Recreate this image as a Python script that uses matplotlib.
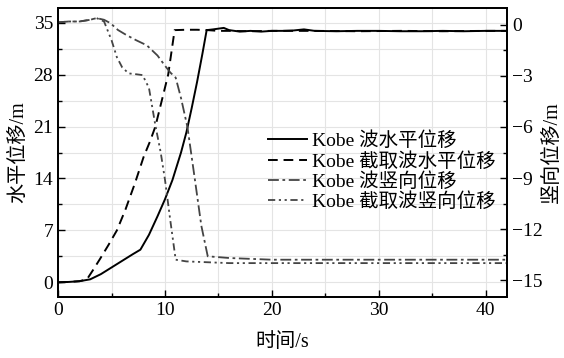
import matplotlib
matplotlib.use("Agg")
import matplotlib.pyplot as plt
from matplotlib.ticker import MultipleLocator

plt.rcParams['font.family'] = ['Liberation Serif', 'Noto Sans CJK SC']
plt.rcParams['axes.unicode_minus'] = True

# Kobe 波水平位移
t_h = [0, 1, 2, 3, 4, 5, 6, 7, 7.7, 8.5, 9.3, 10, 10.7, 11.5, 12, 12.5, 13, 13.5, 13.9,
       14.5, 15, 15.5, 16, 17, 18, 19, 20, 21, 22, 23, 24, 26, 28, 30, 32, 34, 36, 38, 40, 42]
h_kobe = [0, 0.05, 0.15, 0.4, 1.1, 2.0, 2.9, 3.8, 4.4, 6.4, 8.9, 11.2, 13.8, 17.5, 20.2, 23.5,
          27.0, 30.8, 34.0, 34.1, 34.2, 34.3, 34.0, 33.8, 33.9, 33.8, 33.9, 33.9, 33.95, 34.1,
          33.9, 33.85, 33.9, 33.9, 33.85, 33.85, 33.9, 33.85, 33.9, 33.9]

# Kobe 截取波水平位移
t_hc = [0, 1, 2, 2.7, 3.2, 3.9, 4.7, 5.5, 6.3, 7.2, 8.0, 8.6, 9.1, 9.7, 10.3, 10.9,
        12, 13, 14, 15, 16, 18, 20, 24, 28, 32, 36, 40, 42]
h_cut = [0, 0.05, 0.15, 0.4, 1.5, 3.1, 5.0, 7.0, 9.8, 13.4, 16.9, 19.0, 21.0, 24.5, 28.0, 34.0,
         34.05, 34.05, 34.0, 33.9, 33.9, 33.85, 33.9, 33.9, 33.85, 33.9, 33.85, 33.9, 33.9]

# Kobe 波竖向位移
t_v = [0, 1, 2, 3, 3.6, 4.3, 4.9, 5.6, 6.4, 7.3, 8.3, 9.3, 10.0, 10.5, 11.0, 11.5, 12.1,
       12.8, 13.4, 14.0, 15, 16, 18, 20, 25, 30, 35, 40, 42]
v_kobe = [0.15, 0.2, 0.2, 0.3, 0.4, 0.3, 0.1, -0.3, -0.6, -0.9, -1.2, -1.8, -2.4, -2.8, -3.1,
          -4.3, -6.0, -9.1, -11.8, -13.6, -13.65, -13.7, -13.75, -13.8, -13.8, -13.8, -13.8,
          -13.8, -13.8]

# Kobe 截取波竖向位移
t_vc = [0, 1, 2, 3, 3.6, 4.3, 5.0, 5.5, 6.0, 6.6, 7.3, 7.9, 8.5, 9.1, 9.6, 10.0, 10.5, 11.0,
        12, 14, 16, 20, 25, 30, 35, 40, 42]
v_cut = [0.15, 0.2, 0.2, 0.3, 0.4, 0.2, -0.9, -1.9, -2.5, -2.85, -2.9, -2.95, -3.7, -5.9, -7.5,
         -9.1, -11.5, -13.8, -13.9, -13.95, -14.0, -14.0, -14.0, -14.0, -14.0, -14.0, -14.0]

labels = ['Kobe 波水平位移', 'Kobe 截取波水平位移', 'Kobe 波竖向位移', 'Kobe 截取波竖向位移']

fig = plt.figure(figsize=(5.64, 3.58), dpi=100)
ax = fig.add_subplot(111)
fig.subplots_adjust(left=0.103, right=0.899, bottom=0.170, top=0.978)
ax2 = ax.twinx()

l1, = ax.plot(t_h, h_kobe, color='black', lw=1.4, ls='-')
l2, = ax.plot(t_hc, h_cut, color='black', lw=1.4, ls=(0, (5, 3)))
l3, = ax2.plot(t_v, v_kobe, color='#444444', lw=1.3, ls=(0, (6, 2, 1.5, 2)))
l4, = ax2.plot(t_vc, v_cut, color='#444444', lw=1.3, ls=(0, (4, 2, 1.2, 2, 1.2, 2)))

ax.set_xlim(0, 42)
ax.set_ylim(-2, 37)
ax2.set_ylim(-16, 1)

ax.xaxis.set_major_locator(MultipleLocator(10))
ax.xaxis.set_minor_locator(MultipleLocator(5))
ax.yaxis.set_major_locator(MultipleLocator(7))
ax.yaxis.set_minor_locator(MultipleLocator(3.5))
ax2.yaxis.set_major_locator(MultipleLocator(3))
ax2.yaxis.set_minor_locator(MultipleLocator(1.5))

ax.grid(True, which='both', color='#e4e4e4', lw=0.8)
ax.set_axisbelow(True)

for a in (ax, ax2):
    a.tick_params(which='both', direction='in', labelsize=14, top=False)
    a.tick_params(which='major', length=5, width=1.0)
    a.tick_params(which='minor', length=3, width=1.0)
    for s in a.spines.values():
        s.set_linewidth(1.3)
ax.tick_params(which='both', right=False)
ax2.tick_params(which='both', left=False)

ax.set_xlabel('时间/s', fontsize=14.5, labelpad=10)
ax.set_ylabel('水平位移/m', fontsize=14.5, labelpad=4)
ax2.set_ylabel('竖向位移/m', fontsize=14.5, labelpad=0)

ax.legend([l1, l2, l3, l4], labels, loc='center right', bbox_to_anchor=(1.0, 0.435),
          frameon=False, fontsize=14, handlelength=2.0, handletextpad=0.25,
          labelspacing=0.08, borderaxespad=0.2)

fig.savefig('out.png', dpi=100)
